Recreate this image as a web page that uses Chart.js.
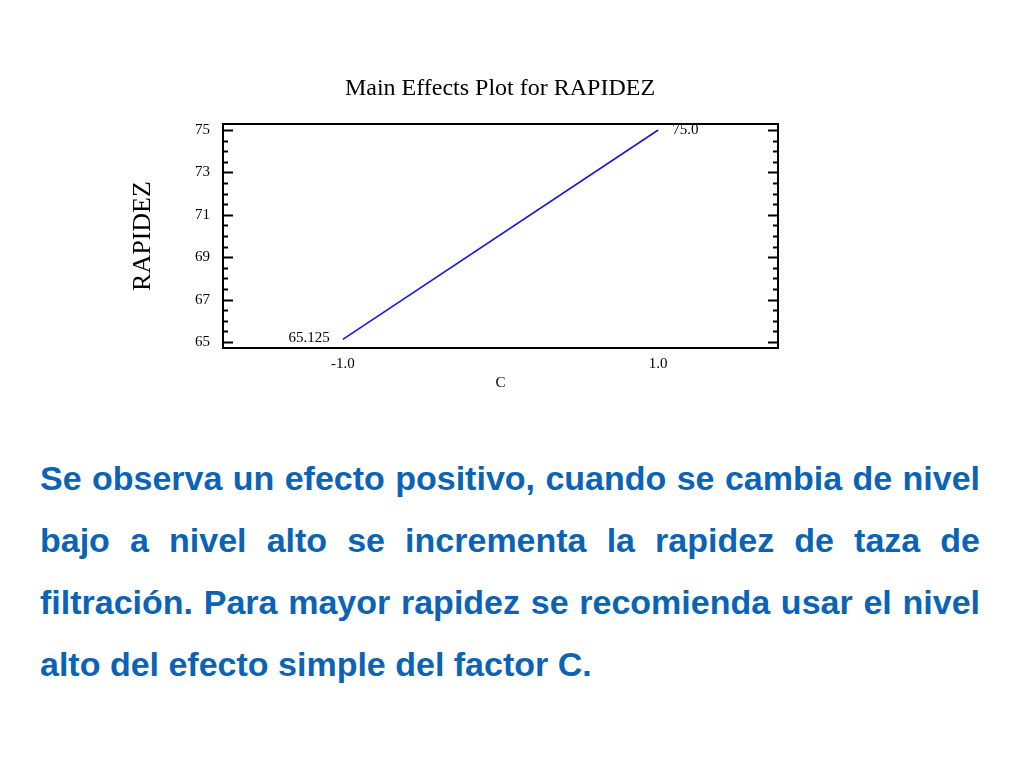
<!DOCTYPE html>
<html lang="es">

<head>
    <meta charset="UTF-8">
    <title>Main Effects Plot for RAPIDEZ</title>
    <script src="https://cdn.jsdelivr.net/npm/chart.js"></script>
    <style>
        body {
            margin: 0;
            width: 1024px;
            height: 768px;
            background: #fff;
            position: relative;
            overflow: hidden;
        }

        #chart-box {
            position: absolute;
            left: 60px;
            top: 60px;
            width: 880px;
            height: 350px;
        }

        #texto {
            position: absolute;
            left: 40px;
            top: 447px;
            width: 940px;
            margin: 0;
            font-family: "Liberation Sans", Arial, sans-serif;
            font-weight: bold;
            font-size: 34px;
            line-height: 62px;
            text-align: justify;
            color: #0b63b6;
        }
    </style>
</head>

<body>
    <div id="chart-box">
        <canvas id="efectos"></canvas>
    </div>

    <p id="texto">Se observa un efecto positivo, cuando se cambia de nivel bajo a nivel alto se incrementa la rapidez de taza de filtración. Para mayor rapidez se recomienda usar el nivel alto del efecto simple del factor C.</p>

    <script>
        // factor C levels and mean RAPIDEZ at each level
        const niveles = [-1, 1];
        const rapidez = [65.125, 75.0];
        const etiquetasPuntos = ['65.125', '75.0'];

        // axis ticks
        const xTicks = [-1, 1];
        const xTickLabels = ['-1.0', '1.0'];
        const yTicks = [65, 67, 69, 71, 73, 75];
        const yTickLabels = ['65', '67', '69', '71', '73', '75'];

        const serif = '"Liberation Serif", "Times New Roman", serif';

        // frame around the plot with inward ticks on left and right, plus the end labels
        const marco = {
            id: 'marco',
            afterDatasetsDraw(chart) {
                const { ctx, chartArea: a, scales: { x, y } } = chart;
                ctx.save();
                ctx.strokeStyle = '#000';
                ctx.lineWidth = 2;
                ctx.strokeRect(a.left, a.top, a.right - a.left, a.bottom - a.top);

                // minor ticks every 0.5, major every 2
                ctx.beginPath();
                for (let v = yTicks[0]; v <= yTicks[yTicks.length - 1] + 0.001; v += 0.5) {
                    const py = Math.round(y.getPixelForValue(v)) + 0.5;
                    const len = yTicks.includes(v) ? 10 : 5;
                    ctx.moveTo(a.left, py);
                    ctx.lineTo(a.left + len, py);
                    ctx.moveTo(a.right, py);
                    ctx.lineTo(a.right - len, py);
                }
                ctx.stroke();

                ctx.fillStyle = '#000';
                ctx.font = '15px ' + serif;
                ctx.textBaseline = 'middle';
                niveles.forEach((n, i) => {
                    const px = x.getPixelForValue(n);
                    const py = y.getPixelForValue(rapidez[i]);
                    if (i === 0) {
                        ctx.textAlign = 'right';
                        ctx.fillText(etiquetasPuntos[i], px - 13, py - 1);
                    } else {
                        ctx.textAlign = 'left';
                        ctx.fillText(etiquetasPuntos[i], px + 14, py);
                    }
                });
                ctx.restore();
            }
        };

        const ctx = document.getElementById('efectos').getContext('2d');
        new Chart(ctx, {
            type: 'scatter',
            data: {
                datasets: [{
                    data: niveles.map((n, i) => ({ x: n, y: rapidez[i] })),
                    showLine: true,
                    borderColor: '#1a1ad2',
                    borderWidth: 1.7,
                    pointRadius: 0,
                    tension: 0
                }]
            },
            options: {
                responsive: true,
                maintainAspectRatio: false,
                animation: false,
                layout: {
                    padding: 0
                },
                plugins: {
                    legend: { display: false },
                    tooltip: { enabled: false },
                    title: {
                        display: true,
                        text: 'Main Effects Plot for RAPIDEZ',
                        color: '#000',
                        font: { family: serif, size: 24, weight: 'normal' },
                        padding: { top: 14.6, bottom: 20.6 }
                    }
                },
                scales: {
                    x: {
                        type: 'linear',
                        min: -1.76,
                        max: 1.76,
                        afterBuildTicks: s => { s.ticks = xTicks.map(v => ({ value: v })); },
                        afterFit: s => { s.height = 62; },
                        grid: { display: false, drawTicks: false },
                        border: { display: false },
                        ticks: {
                            padding: 7,
                            color: '#000',
                            font: { family: serif, size: 15 },
                            callback: v => xTickLabels[xTicks.indexOf(v)]
                        },
                        title: {
                            display: true,
                            text: 'C',
                            color: '#000',
                            font: { family: serif, size: 15 },
                            padding: { top: 0, bottom: 18 }
                        }
                    },
                    y: {
                        type: 'linear',
                        min: 64.72,
                        max: 75.28,
                        afterBuildTicks: s => { s.ticks = yTicks.map(v => ({ value: v })); },
                        afterFit: s => { s.width = 163; },
                        grid: { display: false, drawTicks: false },
                        border: { display: false },
                        ticks: {
                            padding: 13,
                            color: '#000',
                            font: { family: serif, size: 15 },
                            callback: v => yTickLabels[yTicks.indexOf(v)]
                        },
                        title: {
                            display: true,
                            text: 'RAPIDEZ',
                            color: '#000',
                            font: { family: serif, size: 26 },
                            padding: { top: 67.4, bottom: 0 }
                        }
                    },
                    // empty right axis keeps the plot box where it is and the title centred on the page
                    yRight: {
                        type: 'linear',
                        position: 'right',
                        min: 64.72,
                        max: 75.28,
                        afterFit: s => { s.width = 162; },
                        grid: { display: false, drawTicks: false },
                        border: { display: false },
                        ticks: { display: false }
                    }
                }
            },
            plugins: [marco]
        });
    </script>
</body>

</html>
